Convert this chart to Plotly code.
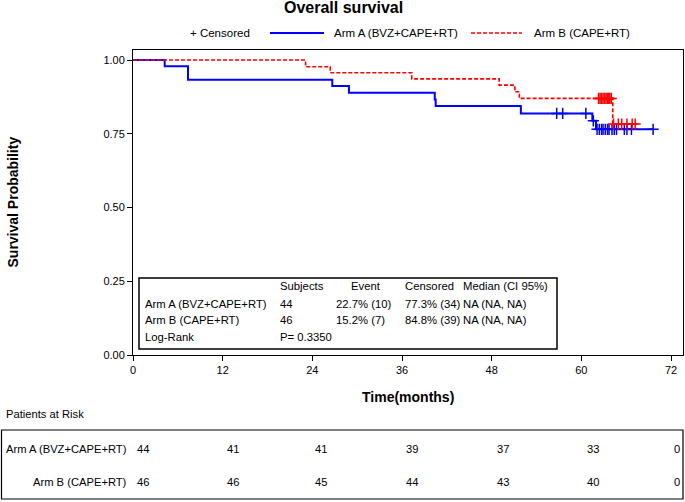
import plotly.graph_objects as go

# ---------------- data ----------------
tick_months = [0, 12, 24, 36, 48, 60, 72]
y_ticks = [0.0, 0.25, 0.5, 0.75, 1.0]

arm_a_name = "Arm A (BVZ+CAPE+RT)"
arm_b_name = "Arm B (CAPE+RT)"

# Kaplan-Meier steps (time of event, survival after it; last point = end of follow-up)
a_time = [0, 4.24, 7.36, 26.67, 28.9, 40.38, 40.5, 51.9, 61.47, 61.96, 69.6]
a_surv = [1.0, 0.979, 0.933, 0.912, 0.889, 0.866, 0.844, 0.819, 0.794, 0.765, 0.765]
a_cens = [56.7, 57.5, 60.6, 61.6, 62.1, 62.4, 62.7, 62.9, 63.2, 63.5, 63.7,
          64.1, 64.4, 64.7, 65.75, 66.1, 66.7, 69.6]

b_time = [0, 23.1, 26.4, 37.3, 49.0, 51.1, 51.7, 64.2, 67.2]
b_surv = [1.0, 0.977, 0.957, 0.936, 0.915, 0.8925, 0.870, 0.783, 0.783]
b_cens = [62.3, 62.5, 62.7, 62.9, 63.1, 63.3, 63.5, 63.6, 63.8, 64.0,
          64.3, 64.95, 65.4, 66.1, 66.8, 67.2]

risk_a = [44, 41, 41, 39, 37, 33, 0]
risk_b = [46, 46, 45, 44, 43, 40, 0]

stats_header = ["Subjects", "Event", "Censored", "Median (CI 95%)"]
stats_a = [arm_a_name, "44", "22.7% (10)", "77.3% (34)", "NA (NA, NA)"]
stats_b = [arm_b_name, "46", "15.2% (7)", "84.8% (39)", "NA (NA, NA)"]
stats_lr = ["Log-Rank", "P= 0.3350"]

# ---------------- geometry helpers (pixel -> paper) ----------------
W, H = 685, 502
L, R, T, B = 133, 683, 50, 355
def X(px):
    return (px - L) / (R - L)
def Y(py):
    return (B - py) / (B - T)

def step_val(times, survs, t):
    v = survs[0]
    for ti, si in zip(times, survs):
        if ti <= t:
            v = si
    return v

BLUE = "#0000ff"
RED = "#ff0000"
FONT = "Liberation Sans, Arial, sans-serif"

fig = go.Figure()
fig.add_trace(go.Scatter(x=a_time, y=a_surv, mode="lines", line_shape="hv",
                         line=dict(color=BLUE, width=2), name=arm_a_name, showlegend=False))
fig.add_trace(go.Scatter(x=b_time, y=b_surv, mode="lines", line_shape="hv",
                         line=dict(color=RED, width=1.6, dash="4px,2px"), name=arm_b_name,
                         showlegend=False))
fig.add_trace(go.Scatter(x=a_cens, y=[step_val(a_time, a_surv, t) for t in a_cens],
                         mode="markers", marker=dict(symbol="cross-thin", size=8,
                         line=dict(color=BLUE, width=1.5)), showlegend=False))
fig.add_trace(go.Scatter(x=b_cens, y=[step_val(b_time, b_surv, t) for t in b_cens],
                         mode="markers", marker=dict(symbol="cross-thin", size=8,
                         line=dict(color=RED, width=1.5)), showlegend=False))

ann = []
shapes = []

# title
ann.append(dict(text="<b>Overall survival</b>", x=X(343), y=Y(8), xref="paper", yref="paper",
                xanchor="center", yanchor="middle", showarrow=False,
                font=dict(size=16, family=FONT, color="black")))
# legend
leg_font = dict(size=11.5, family=FONT, color="black")
ann.append(dict(text="+ Censored", x=X(188), y=Y(33), xref="paper", yref="paper",
                xanchor="left", yanchor="middle", showarrow=False, font=leg_font))
ann.append(dict(text=arm_a_name, x=X(332), y=Y(33), xref="paper", yref="paper",
                xanchor="left", yanchor="middle", showarrow=False, font=leg_font))
ann.append(dict(text=arm_b_name, x=X(532), y=Y(33), xref="paper", yref="paper",
                xanchor="left", yanchor="middle", showarrow=False, font=leg_font))
shapes.append(dict(type="line", xref="paper", yref="paper", x0=X(270), x1=X(324),
                   y0=Y(33), y1=Y(33), line=dict(color=BLUE, width=2)))
shapes.append(dict(type="line", xref="paper", yref="paper", x0=X(471), x1=X(522),
                   y0=Y(33), y1=Y(33), line=dict(color=RED, width=1.6, dash="4px,2px")))

# axis titles
ann.append(dict(text="<b>Time(months)</b>", x=0.5, y=Y(397), xref="paper", yref="paper",
                xanchor="center", yanchor="middle", showarrow=False,
                font=dict(size=14, family=FONT, color="black")))
ann.append(dict(text="<b>Survival Probability</b>", x=X(12), y=0.5, xref="paper", yref="paper",
                xanchor="center", yanchor="middle", showarrow=False, textangle=-90,
                font=dict(size=14, family=FONT, color="black")))

# stats box
shapes.append(dict(type="rect", xref="paper", yref="paper", x0=X(139), x1=X(557),
                   y0=Y(349), y1=Y(278), line=dict(color="black", width=1.5)))
st_font = dict(size=11.3, family=FONT, color="black")
hdr_x = [278, 349, 403, 461]
col_x = [143, 278, 334, 403, 461]
for txt, px in zip(stats_header, hdr_x):
    ann.append(dict(text=txt, x=X(px), y=Y(286), xref="paper", yref="paper",
                    xanchor="left", yanchor="middle", showarrow=False, font=st_font))
for row, py in ((stats_a, 304), (stats_b, 320), (stats_lr, 337)):
    for txt, px in zip(row, col_x):
        ann.append(dict(text=txt, x=X(px), y=Y(py), xref="paper", yref="paper",
                        xanchor="left", yanchor="middle", showarrow=False, font=st_font))

# patients at risk
rk_font = dict(size=11.2, family=FONT, color="black")
ann.append(dict(text="Patients at Risk", x=X(4), y=Y(414), xref="paper", yref="paper",
                xanchor="left", yanchor="middle", showarrow=False, font=rk_font))
shapes.append(dict(type="rect", xref="paper", yref="paper", x0=X(1.5), x1=X(683),
                   y0=Y(499), y1=Y(430), line=dict(color="black", width=1.2)))
ann.append(dict(text=arm_a_name, x=X(129), y=Y(449), xref="paper", yref="paper",
                xanchor="right", yanchor="middle", showarrow=False, font=rk_font))
ann.append(dict(text=arm_b_name, x=X(129), y=Y(482), xref="paper", yref="paper",
                xanchor="right", yanchor="middle", showarrow=False, font=rk_font))
col_shift = [10, 10, 9, 10, 11, 12, 6]
for t, ra, rb, sh in zip(tick_months, risk_a, risk_b, col_shift):
    ann.append(dict(text=str(ra), x=t, y=Y(449), xref="x", yref="paper", xshift=sh,
                    xanchor="center", yanchor="middle", showarrow=False, font=rk_font))
    ann.append(dict(text=str(rb), x=t, y=Y(482), xref="x", yref="paper", xshift=sh,
                    xanchor="center", yanchor="middle", showarrow=False, font=rk_font))

axis_common = dict(showline=True, mirror=True, linecolor="black", linewidth=1,
                   ticks="outside", ticklen=5, tickcolor="black", tickwidth=1,
                   showgrid=False, zeroline=False,
                   tickfont=dict(size=11, family=FONT, color="black"))

fig.update_layout(
    width=W, height=H, autosize=False,
    margin=dict(l=L, r=W - R, t=T, b=H - B),
    paper_bgcolor="white", plot_bgcolor="white",
    xaxis=dict(range=[0, 73.6], tickvals=tick_months, **axis_common),
    yaxis=dict(range=[0, 1.034], tickvals=y_ticks, tickformat=".2f", **axis_common),
    annotations=ann, shapes=shapes, showlegend=False,
)

fig.write_html("out.html", config={"displayModeBar": False},
               post_script="document.body.style.margin='0';")
